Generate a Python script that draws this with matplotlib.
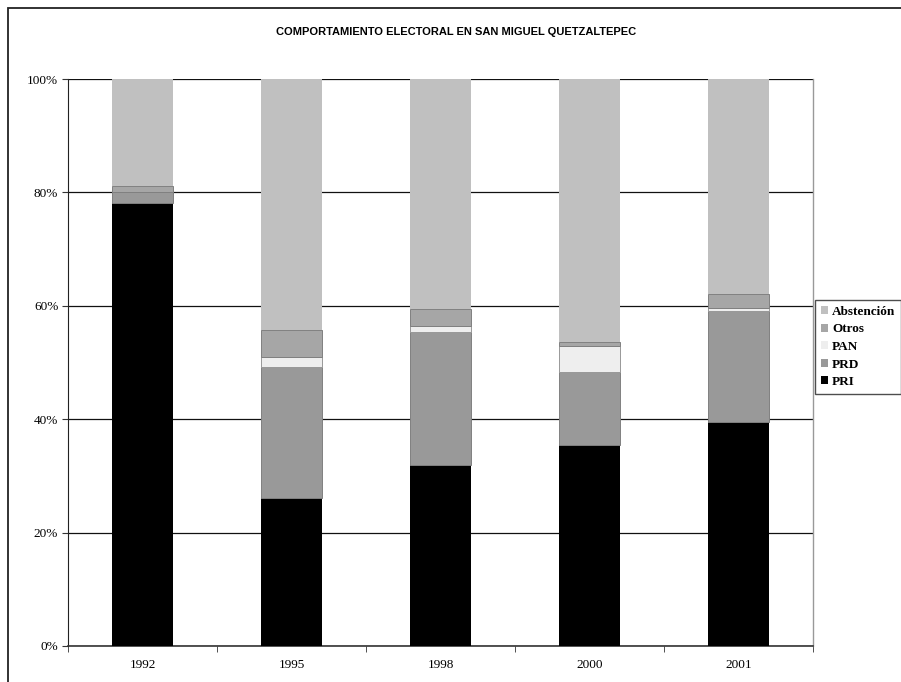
import matplotlib
matplotlib.use("Agg")
import matplotlib.pyplot as plt
from matplotlib.patches import Rectangle
import numpy as np

years = ["1992", "1995", "1998", "2000", "2001"]
pri = [78.1, 26.1, 31.9, 35.4, 39.5]
prd = [2.0, 23.1, 23.5, 13.0, 19.5]
pan = [0.0, 1.7, 1.0, 4.5, 0.6]
otros = [1.0, 4.8, 3.1, 0.8, 2.5]
abstencion = [18.9, 44.3, 40.5, 46.3, 37.9]

series = [
    ("PRI", pri, "#000000", "none"),
    ("PRD", prd, "#999999", "#808080"),
    ("PAN", pan, "#EEEEEE", "#999999"),
    ("Otros", otros, "#A6A6A6", "#808080"),
    ("Abstención", abstencion, "#C0C0C0", "none"),
]

W, H = 901, 682
fig = plt.figure(figsize=(W / 100, H / 100), dpi=100)
ax = fig.add_axes([68 / W, 1 - 646 / H, (813 - 68) / W, (646 - 79) / H])

x = np.arange(len(years))
bottom = np.zeros(len(years))
handles = []
for name, vals, color, edge in series:
    v = np.array(vals)
    b = ax.bar(x, v, bottom=bottom, width=0.41, color=color,
               edgecolor=edge, linewidth=0.7, label=name, zorder=3)
    handles.append(b)
    bottom += v

ax.set_xlim(-0.5, len(years) - 0.5)
ax.set_ylim(0, 100)
ax.set_yticks(np.arange(0, 101, 20))
ax.set_yticklabels([f"{v}%" for v in range(0, 101, 20)],
                   family="Liberation Serif", fontsize=9.5)
ax.set_xticks(x)
ax.set_xticklabels(years, family="Liberation Serif", fontsize=9.5)
ax.set_xticks(np.arange(-0.5, len(years), 1), minor=True)
ax.tick_params(axis="x", which="major", length=0, pad=9)
ax.tick_params(axis="x", which="minor", length=4, direction="out", color="#333333")
ax.tick_params(axis="y", length=4, direction="out", color="#333333", pad=3)

ax.yaxis.grid(True, color="#111111", linewidth=0.9, zorder=0)
ax.set_axisbelow(True)
ax.spines["top"].set_visible(False)
ax.spines["right"].set_color("#999999")
ax.spines["right"].set_linewidth(1.0)
ax.spines["left"].set_color("#222222")
ax.spines["bottom"].set_color("#333333")
ax.spines["bottom"].set_linewidth(1.2)

fig.text(456 / W, 1 - 32 / H, "COMPORTAMIENTO ELECTORAL EN SAN MIGUEL QUETZALTEPEC",
         ha="center", va="center", family="Liberation Sans",
         fontweight="bold", fontsize=8)

leg_handles = [Rectangle((0, 0), 1, 1, facecolor=s[2], edgecolor="none")
               for s in series][::-1]
leg = fig.legend(leg_handles, [s[0] for s in series][::-1],
                 loc="upper left", bbox_to_anchor=(815 / W, 1 - 300 / H),
                 prop={"family": "Liberation Serif", "weight": "bold", "size": 9.5},
                 frameon=True, fancybox=False, edgecolor="#222222",
                 handlelength=0.55, handleheight=0.55, handletextpad=0.3,
                 labelspacing=0.42, borderpad=0.45, borderaxespad=0)
leg.get_frame().set_linewidth(1.0)

# outer frame around the chart
fig.patches.append(Rectangle((8 / W, -0.05), 1.1, 1 - 8 / H + 0.05,
                             transform=fig.transFigure, fill=False,
                             edgecolor="#222222", linewidth=1.3))

fig.savefig("out.png", dpi=100)
